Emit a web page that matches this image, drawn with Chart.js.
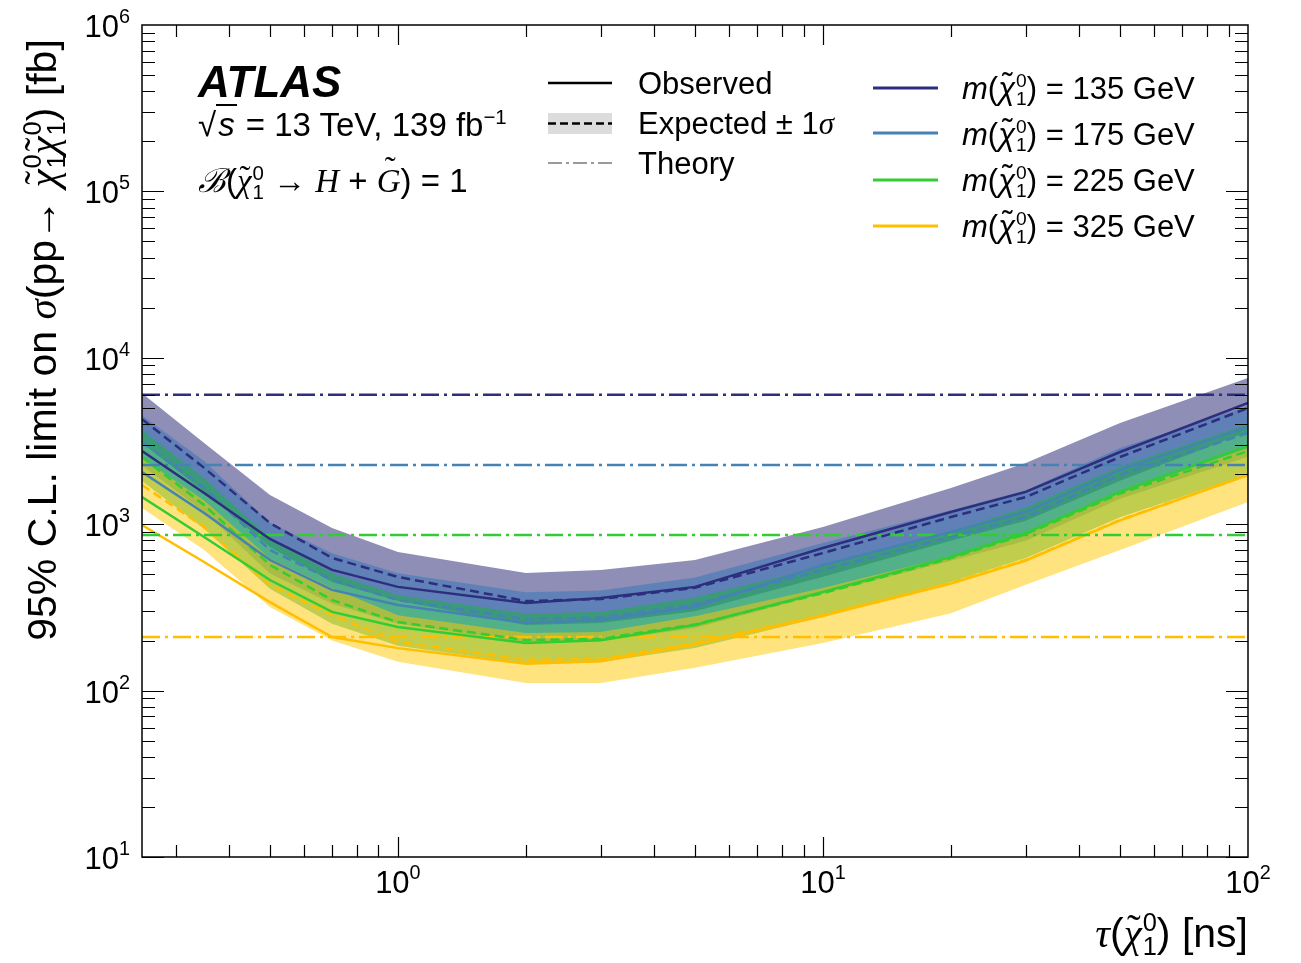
<!DOCTYPE html>
<html>
<head>
<meta charset="utf-8">
<script src="https://cdn.jsdelivr.net/npm/chart.js@4.4.0/dist/chart.umd.min.js"></script>
<style>
body{margin:0;background:#fff}
#wrap{position:relative;width:1301px;height:963px}
.t{position:absolute;font-family:'Liberation Sans',Arial,sans-serif;font-size:31px;line-height:1;white-space:nowrap;color:#000}
.m{font-family:'Liberation Serif','Times New Roman',serif;font-style:italic}
.ss{display:inline-block;vertical-align:-0.34em;font-size:0.62em;line-height:0.95em;text-align:left;margin-left:1px}
.ss span{display:block}
.tl{position:relative;display:inline-block}
.tl::after{content:'\02DC';position:absolute;left:0.05em;right:0;text-align:center;top:-0.12em;font-style:normal}
.tlc{position:relative;display:inline-block}
.tlc::after{content:'\02DC';position:absolute;left:0.1em;right:0;text-align:center;top:-0.38em;font-style:normal}
.tk{position:absolute;font-family:'Liberation Sans',Arial,sans-serif;font-size:31px;line-height:1;white-space:nowrap}
.tk sup{font-size:0.64em;position:relative;top:-0.15em}
svg.k{position:absolute;left:0;top:0;overflow:visible}
</style>
</head>
<body>
<div id="wrap">
<canvas id="c" width="1301" height="963"></canvas>

<svg class="k" width="1301" height="963">
  <line x1="548" y1="83" x2="612" y2="83" stroke="#000" stroke-width="2.5"/>
  <rect x="548" y="113" width="64" height="21" fill="#dcdcdc"/>
  <line x1="548" y1="123.5" x2="612" y2="123.5" stroke="#000" stroke-width="2.5" stroke-dasharray="8,4"/>
  <line x1="548" y1="163" x2="612" y2="163" stroke="#9a9a9a" stroke-width="2" stroke-dasharray="14,4,3,4"/>
  <line x1="873" y1="88" x2="938" y2="88" stroke="#2e2e7e" stroke-width="3"/>
  <line x1="873" y1="133" x2="938" y2="133" stroke="#4682b4" stroke-width="3"/>
  <line x1="873" y1="180" x2="938" y2="180" stroke="#32cd32" stroke-width="3"/>
  <line x1="873" y1="226" x2="938" y2="226" stroke="#ffbf00" stroke-width="3"/>
</svg>

<div class="t" style="left:198px;top:60px;font-size:44px;font-weight:bold;font-style:italic">ATLAS</div>
<div class="t" style="left:198px;top:107px;font-size:33px">√<span style="border-top:2px solid #000;font-style:italic;padding:0 2px">s</span> = 13 TeV, 139 fb<sup style="font-size:0.62em">−1</sup></div>
<div class="t" style="left:198px;top:163px;font-size:33px"><span class="m">ℬ</span>(<span class="m tl">χ</span><span class="ss"><span>0</span><span>1</span></span> → <span class="m">H</span> + <span class="m tlc">G</span>) = 1</div>

<div class="t" style="left:638px;top:68px">Observed</div>
<div class="t" style="left:638px;top:108px">Expected ± 1<span class="m">σ</span></div>
<div class="t" style="left:638px;top:148px">Theory</div>

<div class="t" style="left:962px;top:72px"><i>m</i>(<i class="tl">χ</i><span class="ss"><span>0</span><span>1</span></span>) = 135 GeV</div>
<div class="t" style="left:962px;top:118px"><i>m</i>(<i class="tl">χ</i><span class="ss"><span>0</span><span>1</span></span>) = 175 GeV</div>
<div class="t" style="left:962px;top:164px"><i>m</i>(<i class="tl">χ</i><span class="ss"><span>0</span><span>1</span></span>) = 225 GeV</div>
<div class="t" style="left:962px;top:210px"><i>m</i>(<i class="tl">χ</i><span class="ss"><span>0</span><span>1</span></span>) = 325 GeV</div>

<div class="t" style="left:44px;top:340px;font-size:41px;transform:translate(-50%,-50%) rotate(-90deg)">95% C.L. limit on <span class="m">σ</span>(pp→ <span class="m tl">χ</span><span class="ss"><span>0</span><span>1</span></span><span class="m tl">χ</span><span class="ss"><span>0</span><span>1</span></span>) [fb]</div>
<div class="t" style="right:53px;top:910px;font-size:41px"><span class="m">τ</span>(<span class="m tl">χ</span><span class="ss"><span>0</span><span>1</span></span>) [ns]</div>
</div>

<script>
// lifetime points (ns)
const tau = [0.25, 0.35, 0.5, 0.7, 1, 2, 3, 5, 10, 20, 30, 50, 100];

// m = 135 GeV
const obs135 = [2750, 1540, 815, 531, 420, 336, 360, 420, 719, 1183, 1563, 2716, 5350];
const exp135 = [4280, 2180, 1016, 627, 482, 345, 355, 415, 671, 1104, 1456, 2535, 4990];
const up135  = [6130, 3080, 1496, 948, 680, 509, 531, 609, 961, 1651, 2335, 4060, 7570];
const dn135  = [3080, 1570, 730, 450, 347, 248, 255, 300, 483, 795, 1050, 1825, 3590];

// m = 175 GeV
const obs175 = [2060, 1167, 609, 403, 327, 255, 266, 318, 569, 897, 1183, 2120, 3840];
const exp175 = [3120, 1650, 700, 462, 350, 269, 275, 330, 531, 838, 1104, 1976, 3530];
const up175  = [4500, 2400, 1020, 670, 508, 390, 400, 478, 770, 1215, 1600, 2870, 5120];
const dn175  = [2250, 1190, 505, 333, 252, 194, 198, 238, 382, 603, 795, 1420, 2540];

// m = 225 GeV
const obs225 = [1455, 838, 462, 297, 241, 193, 201, 248, 392, 635, 885, 1563, 2950];
const exp225 = [2530, 1303, 569, 350, 258, 201, 205, 250, 385, 625, 870, 1530, 2750];
const up225  = [3670, 1890, 825, 508, 374, 291, 297, 363, 558, 906, 1260, 2220, 3990];
const dn225  = [1820, 940, 410, 252, 186, 145, 148, 180, 277, 450, 626, 1100, 1980];

// m = 325 GeV
const obs325 = [988, 593, 340, 210, 180, 145, 150, 190, 282, 440, 605, 1055, 1976];
const exp325 = [1720, 961, 430, 285, 196, 153, 155, 193, 285, 443, 609, 1060, 1976];
const up325  = [2490, 1390, 623, 413, 284, 222, 225, 280, 413, 642, 883, 1540, 2870];
const dn325  = [1250, 700, 318, 200, 149, 111, 111, 137, 193, 292, 432, 700, 1358];

// theory cross sections (fb), flat in tau
const theoryTau = [0.25, 100];
const theory = [6000, 2270, 861, 210];

// axis tick labels (powers of ten)
const xTickExp = [0, 1, 2];
const yTickExp = [1, 2, 3, 4, 5, 6];

const lineColors = ['#2e2e7e', '#4682b4', '#32cd32', '#ffbf00'];
const bandColors = ['rgba(30,30,110,0.5)', 'rgba(60,120,185,0.55)', 'rgba(30,175,70,0.55)', 'rgba(255,200,0,0.5)'];

const obs = [obs135, obs175, obs225, obs325];
const exp = [exp135, exp175, exp225, exp325];
const ups = [up135, up175, up225, up325];
const dns = [dn135, dn175, dn225, dn325];

const pts = arr => tau.map((t, i) => ({ x: t, y: arr[i] }));

const datasets = [];
// bands first, navy at the bottom
for (let k = 0; k < 4; k++) {
  datasets.push({ data: pts(ups[k]), fill: '+1', backgroundColor: bandColors[k], borderWidth: 0, order: 10 - k });
  datasets.push({ data: pts(dns[k]), fill: false, borderWidth: 0, order: 10 - k });
}
// lines on top
for (let k = 0; k < 4; k++) {
  datasets.push({ data: pts(obs[k]), borderColor: lineColors[k], borderWidth: 2.5, fill: false, order: 1 });
  datasets.push({ data: pts(exp[k]), borderColor: lineColors[k], borderWidth: 2.5, borderDash: [9, 5], fill: false, order: 1 });
  datasets.push({ data: theoryTau.map(t => ({ x: t, y: theory[k] })), borderColor: lineColors[k], borderWidth: 2.5, borderDash: [18, 5, 3, 5], fill: false, order: 1 });
}

// frame with inward ticks on all four sides (ATLAS style)
const frameTicks = {
  id: 'frameTicks',
  afterDraw(chart) {
    const { ctx, chartArea: a, scales: { x, y } } = chart;
    ctx.save();
    ctx.strokeStyle = '#000';
    ctx.lineWidth = 1.2;
    ctx.beginPath();
    for (let d = -1; d <= 1; d++) {
      for (let m = 1; m <= 9; m++) {
        const v = m * Math.pow(10, d);
        if (v < 0.25 || v > 100) continue;
        const px = Math.round(x.getPixelForValue(v)) + 0.5;
        const len = m === 1 ? 20 : 12;
        ctx.moveTo(px, a.bottom); ctx.lineTo(px, a.bottom - len);
        ctx.moveTo(px, a.top); ctx.lineTo(px, a.top + len);
      }
    }
    for (let d = 1; d <= 5; d++) {
      for (let m = 1; m <= 9; m++) {
        const v = m * Math.pow(10, d);
        const py = Math.round(y.getPixelForValue(v)) + 0.5;
        const len = m === 1 ? 22 : 13;
        ctx.moveTo(a.left, py); ctx.lineTo(a.left + len, py);
        ctx.moveTo(a.right, py); ctx.lineTo(a.right - len, py);
      }
    }
    ctx.stroke();
    ctx.lineWidth = 1.5;
    ctx.strokeRect(a.left, a.top, a.right - a.left, a.bottom - a.top);
    ctx.restore();
  }
};

const chart = new Chart(document.getElementById('c'), {
  type: 'line',
  data: { datasets },
  options: {
    responsive: false,
    animation: false,
    devicePixelRatio: 1,
    layout: { padding: { top: 25, right: 53, left: 0, bottom: 0 } },
    elements: { point: { radius: 0 }, line: { tension: 0 } },
    plugins: { legend: { display: false }, tooltip: { enabled: false } },
    scales: {
      x: {
        type: 'logarithmic', min: 0.25, max: 100,
        grid: { display: false, drawTicks: false },
        border: { display: false },
        ticks: { display: false },
        afterFit: s => { s.height = 106; }
      },
      y: {
        type: 'logarithmic', min: 10, max: 1e6,
        grid: { display: false, drawTicks: false },
        border: { display: false },
        ticks: { display: false },
        afterFit: s => { s.width = 142; }
      }
    }
  },
  plugins: [frameTicks]
});

// tick labels with real superscripts, placed through the chart's scales
const wrap = document.getElementById('wrap');
function addTick(html, left, top, tx) {
  const d = document.createElement('div');
  d.className = 'tk';
  d.innerHTML = html;
  d.style.left = left + 'px';
  d.style.top = top + 'px';
  d.style.transform = tx;
  wrap.appendChild(d);
}
const bottom = chart.chartArea.bottom;
xTickExp.forEach(e => {
  const px = chart.scales.x.getPixelForValue(Math.pow(10, e));
  addTick('10<sup>' + e + '</sup>', px, bottom + 9, 'translateX(-50%)');
});
yTickExp.forEach(e => {
  const py = chart.scales.y.getPixelForValue(Math.pow(10, e));
  addTick('10<sup>' + e + '</sup>', chart.chartArea.left - 12, py - 15, 'translateX(-100%)');
});
</script>
</body>
</html>
